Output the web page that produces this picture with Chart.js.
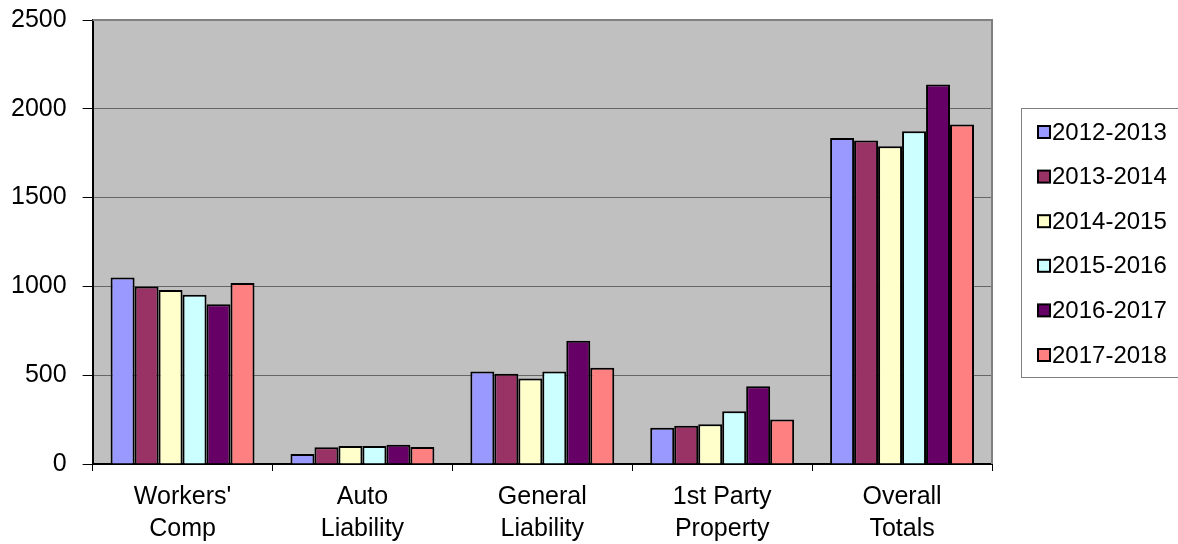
<!DOCTYPE html>
<html>
<head>
<meta charset="utf-8">
<script src="https://cdn.jsdelivr.net/npm/chart.js@4/dist/chart.umd.min.js"></script>
<style>
  html, body { margin: 0; padding: 0; background: #fff; }
  #wrap { width: 1178px; height: 544px; }
</style>
</head>
<body>
<div id="wrap"><canvas id="myChart" width="1178" height="544"></canvas></div>
<script>
const categories = [
  ["Workers'", "Comp"],
  ["Auto", "Liability"],
  ["General", "Liability"],
  ["1st Party", "Property"],
  ["Overall", "Totals"],
];

const years = ["2012-2013", "2013-2014", "2014-2015", "2015-2016", "2016-2017", "2017-2018"];

const fy2012 = [1050, 57, 521, 204, 1836];
const fy2013 = [1000, 95, 508, 216, 1821];
const fy2014 = [980, 102, 482, 224, 1789];
const fy2015 = [953, 102, 521, 297, 1874];
const fy2016 = [900, 108, 694, 438, 2137];
const fy2017 = [1019, 96, 542, 250, 1911];

const yTicks = [0, 500, 1000, 1500, 2000, 2500];

const colors = ["#9999FF", "#993366", "#FFFFCC", "#CCFFFF", "#660066", "#FF8080"];
const series = [fy2012, fy2013, fy2014, fy2015, fy2016, fy2017];

Chart.defaults.font.family = "'Liberation Sans', Arial, sans-serif";
Chart.defaults.color = "#000";

// grey plot area, grey top/right frame
const plotBackground = {
  id: "plotBackground",
  beforeDraw(chart) {
    const { ctx, chartArea: a } = chart;
    ctx.save();
    ctx.fillStyle = "#C0C0C0";
    ctx.fillRect(a.left, a.top, a.right - a.left, a.bottom - a.top);
    ctx.restore();
  },
  afterDraw(chart) {
    const { ctx, chartArea: a } = chart;
    ctx.save();
    ctx.strokeStyle = "#808080";
    ctx.lineWidth = 2;
    ctx.beginPath();
    ctx.moveTo(a.left, a.top);
    ctx.lineTo(a.right, a.top);
    ctx.lineTo(a.right, a.bottom);
    ctx.stroke();
    ctx.restore();
  },
};

// boxed legend on the right, like the old spreadsheet one
const boxLegend = {
  id: "boxLegend",
  afterDraw(chart) {
    const ctx = chart.ctx;
    const x = 1021, y = 108, h = 269;
    ctx.save();
    ctx.strokeStyle = "#808080";
    ctx.lineWidth = 1;
    ctx.strokeRect(x + 0.5, y + 0.5, 200, h);
    ctx.font = "24px 'Liberation Sans', Arial, sans-serif";
    ctx.textBaseline = "middle";
    chart.data.datasets.forEach((ds, i) => {
      const cy = 132 + i * 44.6;
      ctx.fillStyle = ds.backgroundColor;
      ctx.fillRect(1038, cy - 6, 12, 12);
      ctx.strokeStyle = "#000";
      ctx.lineWidth = 2;
      ctx.strokeRect(1038, cy - 6, 12, 12);
      ctx.fillStyle = "#000";
      ctx.fillText(ds.label, 1052, cy + 1);
    });
    ctx.restore();
  },
};

const data = {
  labels: categories,
  datasets: years.map((y, i) => ({
    label: y,
    data: series[i],
    backgroundColor: colors[i],
    borderColor: "#000",
    borderWidth: 2,
    categoryPercentage: 0.8,
    barPercentage: 1.0,
  })),
};

const config = {
  type: "bar",
  data: data,
  options: {
    responsive: false,
    animation: false,
    layout: { padding: { left: -5, top: 20, right: 186, bottom: -11 } },
    plugins: {
      legend: { display: false },
      tooltip: { enabled: false },
    },
    scales: {
      x: {
        grid: {
          offset: true,
          drawOnChartArea: false,
          drawTicks: true,
          tickLength: 7,
          tickColor: "#000",
        },
        border: { color: "#000", width: 2 },
        ticks: {
          font: { size: 25, lineHeight: 1.28 },
          padding: 10,
          maxRotation: 0,
        },
      },
      y: {
        min: 0,
        max: 2500,
        afterBuildTicks(scale) {
          scale.ticks = yTicks.map((v) => ({ value: v }));
        },
        grid: {
          color: "#666",
          lineWidth: 1,
          tickLength: 10,
          tickColor: "#000",
        },
        border: { color: "#000", width: 2 },
        ticks: {
          font: { size: 25, lineHeight: 0.3 },
          padding: 16,
          callback: (v) => String(v),
        },
      },
    },
  },
  plugins: [plotBackground, boxLegend],
};

let myChart = new Chart(document.getElementById("myChart"), config);
</script>
</body>
</html>
